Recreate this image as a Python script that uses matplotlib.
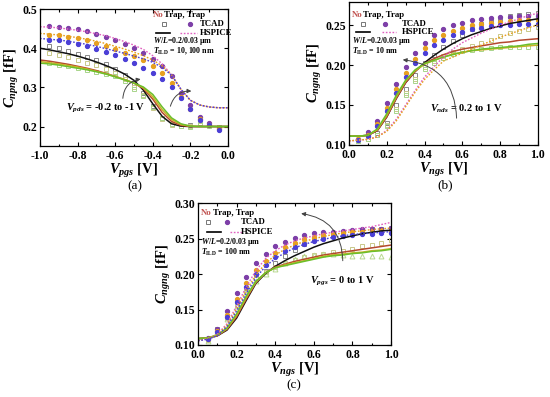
import numpy as np
import matplotlib
matplotlib.use("Agg")
import matplotlib.pyplot as plt
from matplotlib.lines import Line2D

plt.rcParams['font.family'] = ['Liberation Serif', 'DejaVu Serif']
plt.rcParams['font.weight'] = 'bold'
plt.rcParams['axes.labelweight'] = 'bold'
plt.rcParams['mathtext.fontset'] = 'custom'
plt.rcParams['mathtext.rm'] = 'Liberation Serif:bold'
plt.rcParams['mathtext.it'] = 'Liberation Serif:italic:bold'
plt.rcParams['mathtext.bf'] = 'Liberation Serif:bold'

C_NO = ['#111111', '#b5482f', '#c9b227', '#6cbf2a']     # no trap (black, red, yellow, green)
C_TR = ['#7d3fa8', '#e6a020', '#4b3fd6', '#e060c0']     # trap

# ---------------- panel (a) ----------------
a_xl = [-1.0, -0.95, -0.9, -0.85, -0.8, -0.75, -0.7, -0.65, -0.6, -0.55, -0.5,
        -0.45, -0.4, -0.35, -0.3, -0.25, -0.2, -0.15, -0.1, -0.05, 0.0]
a_solid = [
    [0.400, 0.396, 0.391, 0.386, 0.380, 0.373, 0.365, 0.356, 0.346, 0.334, 0.318,
     0.293, 0.258, 0.226, 0.207, 0.201, 0.200, 0.200, 0.200, 0.200, 0.200],
    [0.370, 0.367, 0.363, 0.359, 0.354, 0.349, 0.343, 0.336, 0.328, 0.320, 0.311,
     0.297, 0.270, 0.236, 0.213, 0.203, 0.200, 0.200, 0.200, 0.200, 0.200],
    [0.366, 0.363, 0.360, 0.356, 0.352, 0.347, 0.341, 0.335, 0.328, 0.320, 0.311,
     0.299, 0.276, 0.243, 0.218, 0.205, 0.201, 0.200, 0.200, 0.200, 0.200],
    [0.362, 0.360, 0.357, 0.353, 0.349, 0.345, 0.340, 0.334, 0.327, 0.319, 0.311,
     0.301, 0.282, 0.250, 0.222, 0.207, 0.201, 0.200, 0.200, 0.200, 0.200],
]
a_dot = [
    [0.455, 0.454, 0.452, 0.449, 0.446, 0.442, 0.437, 0.432, 0.425, 0.417, 0.408,
     0.397, 0.381, 0.360, 0.332, 0.295, 0.267, 0.255, 0.250, 0.248, 0.248],
    [0.438, 0.436, 0.434, 0.431, 0.427, 0.423, 0.418, 0.412, 0.405, 0.398, 0.390,
     0.381, 0.370, 0.355, 0.332, 0.295, 0.267, 0.255, 0.250, 0.248, 0.248],
    [0.425, 0.423, 0.421, 0.418, 0.414, 0.410, 0.405, 0.399, 0.393, 0.387, 0.380,
     0.373, 0.364, 0.351, 0.331, 0.295, 0.267, 0.255, 0.250, 0.248, 0.248],
]
a_xp = [-0.95, -0.9, -0.85, -0.8, -0.75, -0.7, -0.65, -0.6, -0.55, -0.5,
        -0.45, -0.4, -0.35, -0.3, -0.25, -0.2, -0.15, -0.1, -0.05]
a_trap = [
    [0.457, 0.455, 0.452, 0.448, 0.443, 0.437, 0.430, 0.420, 0.410, 0.400,
     0.388, 0.372, 0.355, 0.328, 0.285, 0.255, 0.225, 0.210, 0.195],
    [0.435, 0.433, 0.430, 0.425, 0.420, 0.413, 0.405, 0.397, 0.389, 0.380,
     0.369, 0.355, 0.338, 0.310, 0.276, 0.246, 0.220, 0.205, 0.194],
    [0.422, 0.420, 0.416, 0.411, 0.405, 0.398, 0.390, 0.382, 0.373, 0.362,
     0.350, 0.337, 0.322, 0.300, 0.272, 0.244, 0.216, 0.204, 0.190],
]
a_notrap = [
    [0.405, 0.400, 0.393, 0.386, 0.378, 0.370, 0.360, 0.346, 0.331, 0.310,
     0.286, 0.252, 0.222, 0.206, 0.202, 0.205, 0.220, 0.205, 0.200],
    [0.387, 0.382, 0.377, 0.370, 0.363, 0.356, 0.348, 0.338, 0.322, 0.300,
     0.280, 0.248, 0.220, 0.205, 0.201, 0.201, 0.214, 0.204, 0.200],
    [0.362, 0.358, 0.355, 0.350, 0.345, 0.340, 0.335, 0.328, 0.316, 0.296,
     0.278, 0.250, 0.222, 0.206, 0.201, 0.200, 0.210, 0.202, 0.200],
]

# ---------------- panel (b) ----------------
b_xl = [0.0, 0.05, 0.1, 0.15, 0.2, 0.25, 0.3, 0.35, 0.4, 0.45, 0.5,
        0.55, 0.6, 0.65, 0.7, 0.75, 0.8, 0.85, 0.9, 0.95, 1.0]
b_solid = [
    [0.111, 0.111, 0.112, 0.118, 0.135, 0.158, 0.178, 0.192, 0.203, 0.212, 0.220,
     0.227, 0.233, 0.238, 0.242, 0.246, 0.249, 0.252, 0.254, 0.256, 0.258],
    [0.111, 0.111, 0.112, 0.118, 0.135, 0.158, 0.178, 0.192, 0.202, 0.208, 0.213,
     0.217, 0.220, 0.222, 0.224, 0.226, 0.228, 0.229, 0.231, 0.232, 0.233],
    [0.111, 0.111, 0.112, 0.119, 0.137, 0.160, 0.180, 0.193, 0.201, 0.206, 0.210,
     0.214, 0.216, 0.218, 0.219, 0.220, 0.221, 0.222, 0.223, 0.224, 0.225],
    [0.111, 0.111, 0.112, 0.120, 0.139, 0.162, 0.181, 0.194, 0.202, 0.206, 0.210,
     0.213, 0.216, 0.218, 0.220, 0.221, 0.222, 0.223, 0.224, 0.226, 0.227],
]
b_dot = [
    [0.105, 0.106, 0.107, 0.110, 0.118, 0.132, 0.150, 0.168, 0.185, 0.198, 0.210,
     0.220, 0.228, 0.234, 0.240, 0.245, 0.250, 0.254, 0.258, 0.262, 0.265],
    [0.105, 0.106, 0.107, 0.110, 0.117, 0.130, 0.148, 0.166, 0.182, 0.194, 0.205,
     0.210, 0.215, 0.220, 0.225, 0.230, 0.235, 0.239, 0.243, 0.247, 0.250],
]
b_xp = [0.05, 0.1, 0.15, 0.2, 0.25, 0.3, 0.35, 0.4, 0.45, 0.5,
        0.55, 0.6, 0.65, 0.7, 0.75, 0.8, 0.85, 0.9, 0.95, 1.0]
b_trap = [
    [0.108, 0.116, 0.130, 0.153, 0.176, 0.197, 0.215, 0.228, 0.238, 0.245,
     0.250, 0.253, 0.256, 0.258, 0.259, 0.260, 0.260, 0.261, 0.261, 0.262],
    [0.107, 0.113, 0.126, 0.146, 0.170, 0.190, 0.207, 0.221, 0.231, 0.238,
     0.243, 0.247, 0.250, 0.252, 0.253, 0.254, 0.255, 0.256, 0.256, 0.257],
    [0.106, 0.111, 0.124, 0.143, 0.165, 0.185, 0.202, 0.215, 0.225, 0.232,
     0.238, 0.242, 0.245, 0.247, 0.249, 0.250, 0.250, 0.251, 0.252, 0.252],
]
b_notrap = [
    [0.106, 0.108, 0.115, 0.128, 0.150, 0.170, 0.188, 0.202, 0.212, 0.222,
     0.230, 0.238, 0.245, 0.251, 0.255, 0.258, 0.261, 0.263, 0.264, 0.265],
    [0.105, 0.107, 0.113, 0.125, 0.145, 0.165, 0.183, 0.197, 0.205, 0.211,
     0.216, 0.220, 0.224, 0.228, 0.232, 0.236, 0.240, 0.243, 0.245, 0.248],
    [0.105, 0.107, 0.112, 0.124, 0.143, 0.163, 0.180, 0.195, 0.203, 0.209,
     0.214, 0.217, 0.219, 0.220, 0.221, 0.222, 0.222, 0.222, 0.222, 0.222],
]

# ---------------- panel (c) ----------------
c_xl = [0.0, 0.05, 0.1, 0.15, 0.2, 0.25, 0.3, 0.35, 0.4, 0.45, 0.5,
        0.55, 0.6, 0.65, 0.7, 0.75, 0.8, 0.85, 0.9, 0.95, 1.0]
c_solid = [
    [0.109, 0.110, 0.113, 0.121, 0.138, 0.163, 0.187, 0.201, 0.211, 0.219, 0.226,
     0.232, 0.238, 0.243, 0.247, 0.251, 0.254, 0.257, 0.259, 0.261, 0.262],
    [0.109, 0.110, 0.113, 0.122, 0.140, 0.165, 0.188, 0.202, 0.210, 0.214, 0.218,
     0.221, 0.224, 0.227, 0.229, 0.231, 0.233, 0.235, 0.237, 0.239, 0.241],
    [0.109, 0.110, 0.114, 0.123, 0.142, 0.167, 0.189, 0.202, 0.209, 0.213, 0.216,
     0.219, 0.222, 0.225, 0.227, 0.228, 0.230, 0.231, 0.233, 0.234, 0.236],
    [0.109, 0.110, 0.114, 0.124, 0.144, 0.169, 0.190, 0.202, 0.209, 0.212, 0.215,
     0.218, 0.221, 0.224, 0.226, 0.227, 0.229, 0.230, 0.232, 0.233, 0.235],
]
c_dot = [
    [0.106, 0.109, 0.115, 0.130, 0.155, 0.182, 0.205, 0.222, 0.233, 0.241, 0.247,
     0.251, 0.254, 0.257, 0.259, 0.261, 0.263, 0.265, 0.267, 0.270, 0.273],
    [0.106, 0.109, 0.114, 0.128, 0.151, 0.177, 0.199, 0.215, 0.227, 0.235, 0.241,
     0.246, 0.250, 0.253, 0.256, 0.258, 0.260, 0.261, 0.263, 0.264, 0.265],
    [0.106, 0.108, 0.113, 0.126, 0.148, 0.173, 0.195, 0.211, 0.222, 0.230, 0.237,
     0.242, 0.246, 0.249, 0.252, 0.254, 0.256, 0.257, 0.258, 0.259, 0.260],
]
c_xp = [0.05, 0.1, 0.15, 0.2, 0.25, 0.3, 0.35, 0.4, 0.45, 0.5,
        0.55, 0.6, 0.65, 0.7, 0.75, 0.8, 0.85, 0.9, 0.95, 1.0]
c_trap = [
    [0.110, 0.122, 0.148, 0.173, 0.196, 0.215, 0.229, 0.240, 0.246, 0.251,
     0.255, 0.258, 0.259, 0.260, 0.261, 0.262, 0.263, 0.263, 0.264, 0.265],
    [0.109, 0.120, 0.143, 0.165, 0.188, 0.206, 0.219, 0.230, 0.238, 0.244,
     0.249, 0.252, 0.255, 0.257, 0.258, 0.259, 0.260, 0.260, 0.261, 0.261],
    [0.108, 0.118, 0.140, 0.160, 0.182, 0.200, 0.213, 0.224, 0.232, 0.238,
     0.243, 0.247, 0.250, 0.252, 0.254, 0.255, 0.256, 0.257, 0.258, 0.258],
]
c_notrap = [
    [0.108, 0.123, 0.140, 0.160, 0.180, 0.195, 0.205, 0.215, 0.225, 0.234,
     0.243, 0.250, 0.254, 0.257, 0.259, 0.260, 0.262, 0.263, 0.264, 0.265],
    [0.107, 0.121, 0.138, 0.157, 0.177, 0.193, 0.203, 0.210, 0.215, 0.220,
     0.224, 0.227, 0.229, 0.231, 0.233, 0.236, 0.239, 0.241, 0.244, 0.248],
]
c_tri = [0.106, 0.119, 0.136, 0.155, 0.175, 0.190, 0.200, 0.207, 0.215, 0.222,
         0.225, 0.227, 0.228, 0.228, 0.227, 0.226, 0.226, 0.225, 0.225, 0.224]

fig = plt.figure(figsize=(5.5, 3.97), dpi=100)
ax_a = fig.add_axes([0.0727, 0.632, 0.3418, 0.345])
ax_b = fig.add_axes([0.6345, 0.635, 0.3435, 0.360])
ax_c = fig.add_axes([0.360, 0.131, 0.351, 0.357])

SQ_COLS = ['#888888', '#c9c98a', '#a8d48a']
TR_COLS = [C_TR[0], C_TR[1], C_TR[2]]
FS_TICK = 8.5
FS_LAB = 10.5
FS_SMALL = 6.0


def draw(ax, xl, solid, dot, xp, trap, notrap, tri=None):
    for ys, c in zip(notrap, SQ_COLS):
        ax.plot(xp, ys, ls='none', marker='s', ms=3.3, mfc='none', mec=c, mew=0.7)
    if tri is not None:
        ax.plot(xp, tri, ls='none', marker='^', ms=3.5, mfc='none', mec='#b8d890', mew=0.7)
    for ys, c in zip(trap, TR_COLS):
        ax.plot(xp, ys, ls='none', marker='o', ms=2.8, mfc=c, mec=c)
    for ys, c in zip(solid, C_NO):
        ax.plot(xl, ys, color=c, lw=1.1)
    dcols = [C_TR[3], C_TR[1], C_TR[2]]
    for ys, c in zip(dot, dcols):
        ax.plot(xl, ys, color=c, lw=1.0, ls=(0, (1.2, 1.2)))
    ax.tick_params(direction='in', which='both', top=True, right=True,
                   labelsize=FS_TICK, width=0.8, length=3, pad=2)
    ax.tick_params(axis='x', pad=3)
    ax.tick_params(which='minor', length=1.8)
    for s in ax.spines.values():
        s.set_linewidth(0.9)


def legend_block(ax, xh, yh, y1, y2, xsq, xdot, xtxt, xs0, xs1, xd0, xd1):
    """Manual key: header, TCAD row (markers) and HSPICE row (line samples), axes fractions."""
    tr = ax.transAxes
    ax.text(xh, yh, 'No', color='#c0504d', fontsize=FS_SMALL + 0.3, fontweight='bold',
            transform=tr, va='center')
    ax.text(xh + 0.06, yh, 'Trap, Trap', color='black', fontsize=FS_SMALL + 0.3,
            fontweight='bold', transform=tr, va='center')
    ax.add_line(Line2D([xsq], [y1], transform=tr, ls='none', marker='s', ms=3,
                       mfc='none', mec='#777777', mew=0.7))
    ax.add_line(Line2D([xdot], [y1], transform=tr, ls='none', marker='o', ms=2.8,
                       mfc=C_TR[0], mec=C_TR[0]))
    ax.text(xtxt, y1, 'TCAD', transform=tr, fontsize=FS_SMALL + 0.3, va='center')
    ax.add_line(Line2D([xs0, xs1], [y2, y2], transform=tr, color='black', lw=1.2))
    ax.add_line(Line2D([xd0, xd1], [y2, y2], transform=tr, color=C_TR[3], lw=1.0,
                       ls=(0, (1.2, 1.2))))
    ax.text(xtxt, y2, 'HSPICE', transform=tr, fontsize=FS_SMALL + 0.3, va='center')


def finish_labels(ax, xt, xtl, yt, ytl, xlab, ylab):
    ax.set_xticks(xt)
    ax.set_xticklabels(xtl)
    ax.set_yticks(yt)
    ax.set_yticklabels(ytl)
    ax.set_xlabel(xlab, fontsize=FS_LAB, labelpad=0)
    ax.set_ylabel(ylab, fontsize=FS_LAB, labelpad=1)


FS_INFO = 5.7

draw(ax_a, a_xl, a_solid, a_dot, a_xp, a_trap, a_notrap)
ax_a.set_xlim(-1.0, 0.0)
ax_a.set_ylim(0.15, 0.5)
finish_labels(ax_a, [-1.0, -0.8, -0.6, -0.4, -0.2, 0.0],
              ['-1.0', '-0.8', '-0.6', '-0.4', '-0.2', '0.0'],
              [0.2, 0.3, 0.4, 0.5], ['0.2', '0.3', '0.4', '0.5'],
              r'$V_{pgs}$ [V]', r'$C_{npng}$ [fF]')
ax_a.set_xticks([-0.9, -0.7, -0.5, -0.3, -0.1], minor=True)
legend_block(ax_a, 0.60, 0.956, 0.891, 0.828, 0.66, 0.80, 0.85, 0.615, 0.69, 0.745, 0.835)
ax_a.text(0.60, 0.765, r'$W/L$=0.2/0.03 μm', transform=ax_a.transAxes, fontsize=FS_INFO, va='center')
ax_a.text(0.60, 0.69, r'$T_{\rm ILD}$ = 10, 100 nm', transform=ax_a.transAxes, fontsize=FS_INFO, va='center')
ax_a.text(-0.86, 0.247, r'$V_{pds}$ = -0.2 to -1 V', fontsize=7.5, va='center')
ax_a.annotate('', xy=(-0.45, 0.322), xytext=(-0.56, 0.265),
              arrowprops=dict(arrowstyle='-|>', color='#444444', lw=0.7,
                              connectionstyle='arc3,rad=-0.45', mutation_scale=6))
ax_a.annotate('', xy=(-0.18, 0.29), xytext=(-0.31, 0.245),
              arrowprops=dict(arrowstyle='-|>', color='#444444', lw=0.7,
                              connectionstyle='arc3,rad=-0.45', mutation_scale=6))
fig.text(0.245, 0.532, '(a)', fontsize=9.5, ha='center', va='center', fontweight='normal')

draw(ax_b, b_xl, b_solid, b_dot, b_xp, b_trap, b_notrap)
ax_b.set_xlim(0.0, 1.0)
ax_b.set_ylim(0.10, 0.279)
finish_labels(ax_b, [0.0, 0.2, 0.4, 0.6, 0.8, 1.0],
              ['0.0', '0.2', '0.4', '0.6', '0.8', '1.0'],
              [0.10, 0.15, 0.20, 0.25], ['0.10', '0.15', '0.20', '0.25'],
              r'$V_{ngs}$ [V]', r'$C_{ngng}$ [fF]')
ax_b.set_xticks([0.1, 0.3, 0.5, 0.7, 0.9], minor=True)
legend_block(ax_b, 0.016, 0.909, 0.846, 0.787, 0.074, 0.19, 0.28, 0.035, 0.11, 0.175, 0.25)
ax_b.text(0.016, 0.73, r'$W/L$=0.2/0.03 μm', transform=ax_b.transAxes, fontsize=FS_INFO, va='center')
ax_b.text(0.016, 0.655, r'$T_{\rm ILD}$ = 10 nm', transform=ax_b.transAxes, fontsize=FS_INFO, va='center')
ax_b.text(0.43, 0.145, r'$V_{nds}$ = 0.2 to 1 V', fontsize=7.5, va='center')
ax_b.annotate('', xy=(0.27, 0.207), xytext=(0.57, 0.13),
              arrowprops=dict(arrowstyle='-|>', color='#444444', lw=0.7,
                              connectionstyle='arc3,rad=0.45', mutation_scale=6))
fig.text(0.81, 0.534, '(b)', fontsize=9.5, ha='center', va='center', fontweight='normal')

draw(ax_c, c_xl, c_solid, c_dot, c_xp, c_trap, c_notrap, tri=c_tri)
ax_c.set_xlim(0.0, 1.0)
ax_c.set_ylim(0.10, 0.30)
finish_labels(ax_c, [0.0, 0.2, 0.4, 0.6, 0.8, 1.0],
              ['0.0', '0.2', '0.4', '0.6', '0.8', '1.0'],
              [0.10, 0.15, 0.20, 0.25, 0.30], ['0.10', '0.15', '0.20', '0.25', '0.30'],
              r'$V_{ngs}$ [V]', r'$C_{ngng}$ [fF]')
ax_c.set_xticks([0.1, 0.3, 0.5, 0.7, 0.9], minor=True)
legend_block(ax_c, 0.016, 0.93, 0.866, 0.797, 0.05, 0.15, 0.22, 0.045, 0.12, 0.165, 0.23)
ax_c.text(0.016, 0.73, r'$W/L$=0.2/0.03 μm', transform=ax_c.transAxes, fontsize=FS_INFO, va='center')
ax_c.text(0.016, 0.655, r'$T_{\rm ILD}$ = 100 nm', transform=ax_c.transAxes, fontsize=FS_INFO, va='center')
ax_c.text(0.58, 0.19, r'$V_{pgs}$ = 0 to 1 V', fontsize=7.5, va='center')
ax_c.annotate('', xy=(0.52, 0.286), xytext=(0.75, 0.215),
              arrowprops=dict(arrowstyle='-|>', color='#444444', lw=0.7,
                              connectionstyle='arc3,rad=0.45', mutation_scale=6))
fig.text(0.535, 0.03, '(c)', fontsize=9.5, ha='center', va='center', fontweight='normal')

fig.savefig('out.png', dpi=100)
